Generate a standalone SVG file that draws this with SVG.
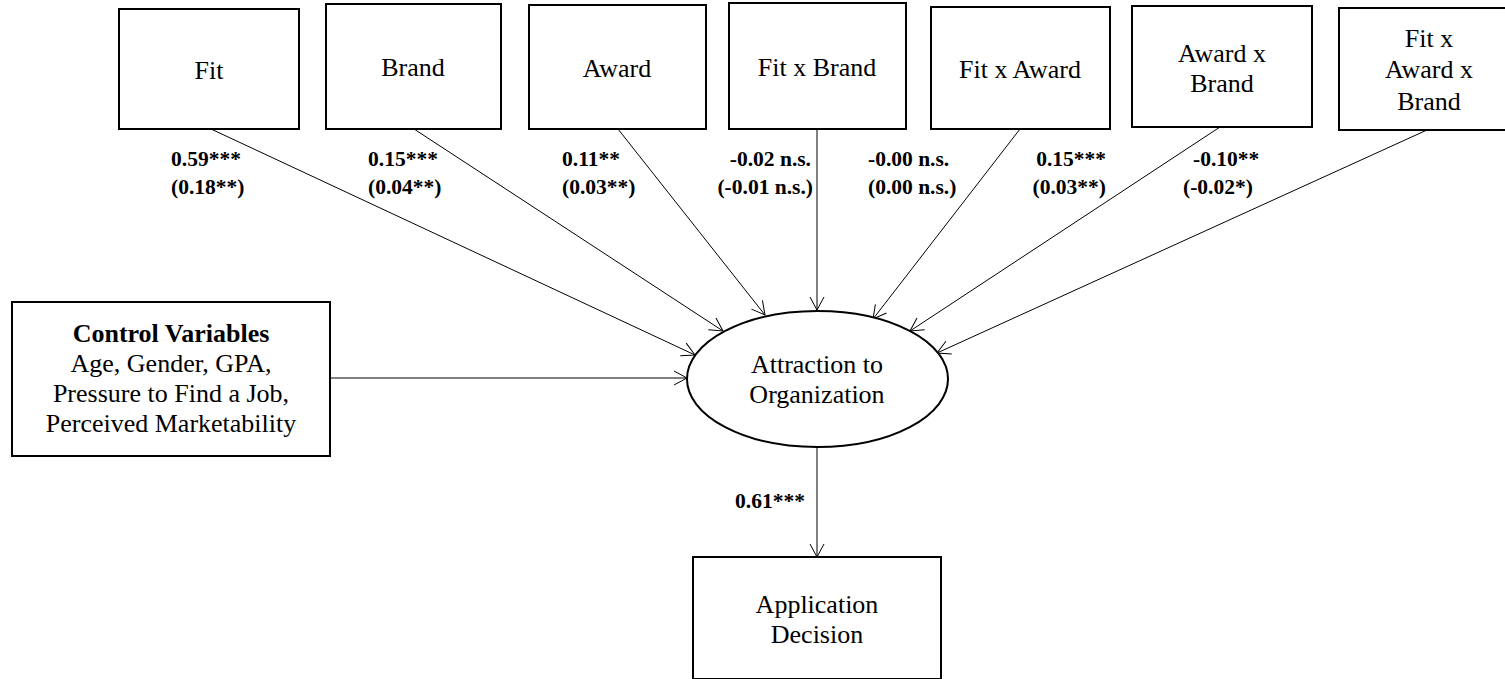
<svg xmlns="http://www.w3.org/2000/svg" width="1505" height="679" viewBox="0 0 1505 679">
<style>
.box{fill:#fff;stroke:#000;stroke-width:2}
text{font-family:'Liberation Serif','Tinos','Times New Roman','DejaVu Serif',serif}
.t{font-size:26px;fill:#000;text-anchor:middle}
.b{font-weight:bold}
.lb{font-size:21.5px;font-weight:bold;fill:#000}
.c{stroke:#000;stroke-width:1;fill:none;marker-end:url(#ah)}
</style>
<defs>
<marker id="ah" markerUnits="userSpaceOnUse" markerWidth="20" markerHeight="20" viewBox="-16 -10 18 20" refX="0" refY="0" orient="auto">
<path d="M-13,-7 L0,0 L-13,7" fill="none" stroke="#000" stroke-width="1"/>
</marker>
</defs>
<rect width="1505" height="679" fill="#fff"/>
<g id="connectors">
<line class="c" x1="211" y1="129" x2="695" y2="355"/>
<line class="c" x1="414" y1="129" x2="723" y2="331"/>
<line class="c" x1="618" y1="129" x2="765" y2="315"/>
<line class="c" x1="817" y1="129" x2="817" y2="310"/>
<line class="c" x1="1020" y1="129" x2="873" y2="319"/>
<line class="c" x1="1220" y1="127" x2="910" y2="331"/>
<line class="c" x1="1427" y1="130" x2="937" y2="353"/>
<line class="c" x1="330" y1="378" x2="687" y2="378"/>
<line class="c" x1="817" y1="447" x2="817" y2="557"/>
</g>
<g id="labels">
<text class="lb" x="171" y="166">0.59***</text>
<text class="lb" x="171" y="194">(0.18**)</text>
<text class="lb" x="368" y="166">0.15***</text>
<text class="lb" x="368" y="194">(0.04**)</text>
<text class="lb" x="562" y="166">0.11**</text>
<text class="lb" x="562" y="194">(0.03**)</text>
<text class="lb" x="811" y="166" text-anchor="end">-0.02 n.s.</text>
<text class="lb" x="813" y="194" text-anchor="end">(-0.01 n.s.)</text>
<text class="lb" x="868" y="166">-0.00 n.s.</text>
<text class="lb" x="868" y="194">(0.00 n.s.)</text>
<text class="lb" x="1106" y="166" text-anchor="end">0.15***</text>
<text class="lb" x="1106" y="194" text-anchor="end">(0.03**)</text>
<text class="lb" x="1193" y="166">-0.10**</text>
<text class="lb" x="1183" y="194">(-0.02*)</text>
<text class="lb" x="735" y="508">0.61***</text>
</g>
<g id="fit"><rect class="box" x="119" y="9" width="180" height="120"/><text class="t" x="209" y="79">Fit</text></g>
<g id="brand"><rect class="box" x="326" y="4" width="175" height="125"/><text class="t" x="413" y="76">Brand</text></g>
<g id="award"><rect class="box" x="529" y="5" width="177" height="124"/><text class="t" x="617" y="77">Award</text></g>
<g id="fit-brand"><rect class="box" x="729" y="3" width="177" height="126"/><text class="t" x="817" y="76">Fit x Brand</text></g>
<g id="fit-award"><rect class="box" x="931" y="7" width="179" height="122"/><text class="t" x="1020" y="78">Fit x Award</text></g>
<g id="award-brand"><rect class="box" x="1132" y="6" width="180" height="121"/><text class="t" x="1222" y="62">Award x</text><text class="t" x="1222" y="92">Brand</text></g>
<g id="fit-award-brand"><rect class="box" x="1339" y="8" width="190" height="122"/><text class="t" x="1429" y="47">Fit x</text><text class="t" x="1429" y="78">Award x</text><text class="t" x="1429" y="110">Brand</text></g>
<g id="controls"><rect class="box" x="12" y="302" width="318" height="154"/>
<text class="t b" x="171" y="342">Control Variables</text>
<text class="t" x="171" y="372">Age, Gender, GPA,</text>
<text class="t" x="171" y="402">Pressure to Find a Job,</text>
<text class="t" x="171" y="432">Perceived Marketability</text></g>
<g id="attraction"><ellipse cx="817.5" cy="379" rx="130.5" ry="68" fill="#fff" stroke="#000" stroke-width="2"/>
<text class="t" x="817" y="373">Attraction to</text><text class="t" x="817" y="403">Organization</text></g>
<g id="application"><rect class="box" x="693" y="557" width="248" height="122"/>
<text class="t" x="817" y="613">Application</text><text class="t" x="817" y="643">Decision</text></g>
</svg>
